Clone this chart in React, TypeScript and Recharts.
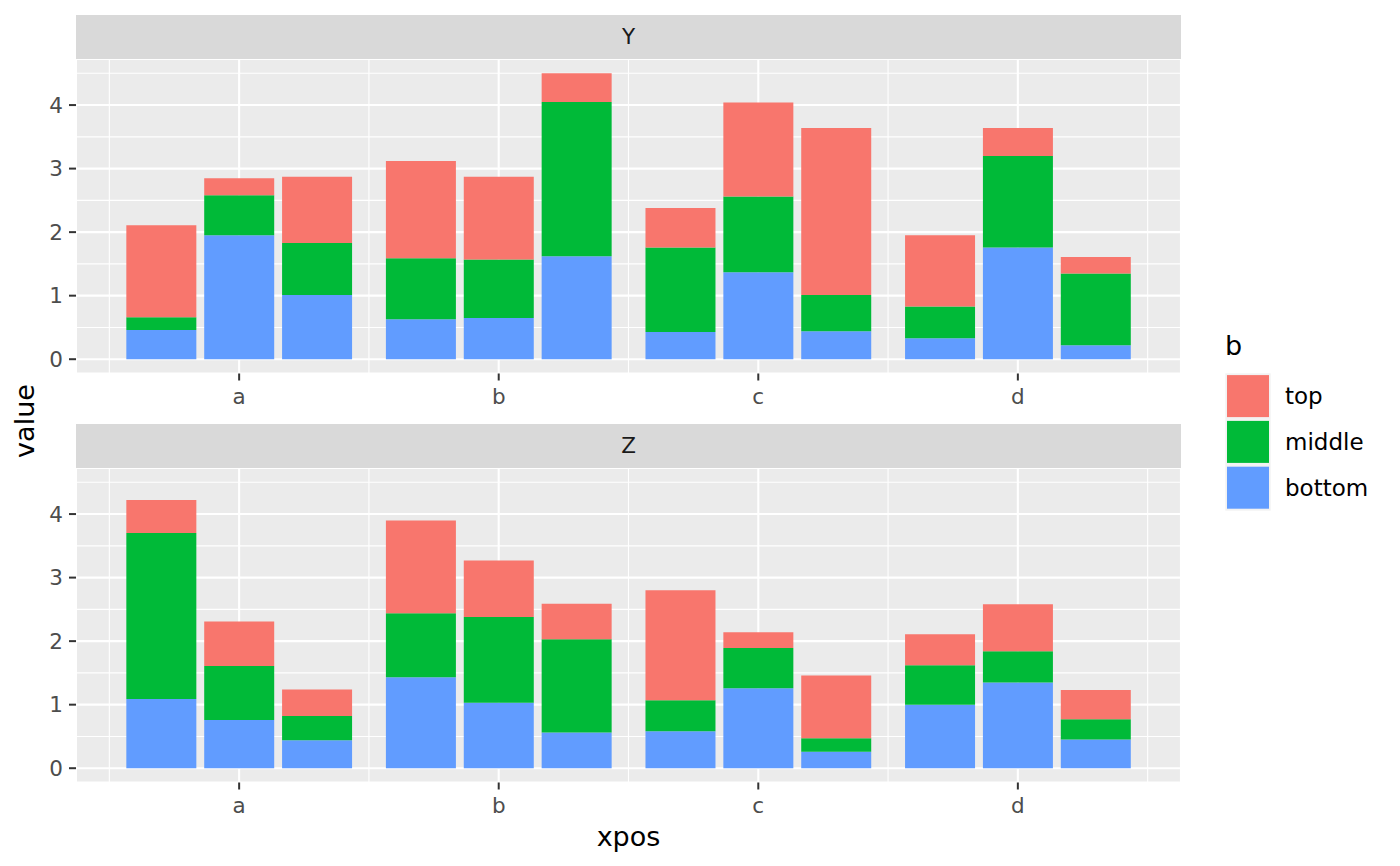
import { ComposedChart, Bar, XAxis, YAxis, CartesianGrid } from "recharts";

const FONT = "DejaVu Sans";

// x categories and the three dodged bars in each group
const CATEGORIES = ["a", "b", "c", "d"];
const DODGE = [-0.3, 0, 0.3];

// stacked layers, bottom first (12 bars per facet: a1 a2 a3 b1 ... d3)
const Y_BOTTOM = [0.46, 1.95, 1.01, 0.63, 0.65, 1.62, 0.43, 1.37, 0.44, 0.33, 1.76, 0.22];
const Y_MIDDLE = [0.2, 0.63, 0.82, 0.96, 0.92, 2.43, 1.33, 1.19, 0.57, 0.5, 1.44, 1.13];
const Y_TOP = [1.45, 0.27, 1.04, 1.53, 1.3, 0.45, 0.62, 1.48, 2.63, 1.12, 0.44, 0.26];

const Z_BOTTOM = [1.09, 0.76, 0.44, 1.43, 1.03, 0.56, 0.58, 1.26, 0.26, 1.0, 1.35, 0.45];
const Z_MIDDLE = [2.61, 0.85, 0.38, 1.01, 1.35, 1.47, 0.49, 0.63, 0.21, 0.62, 0.49, 0.32];
const Z_TOP = [0.52, 0.7, 0.42, 1.46, 0.89, 0.56, 1.73, 0.25, 0.99, 0.49, 0.74, 0.46];

const Y_TICKS = [0, 1, 2, 3, 4];
const MINOR = [0.5, 1.5, 2.5, 3.5, 4.5];
const X_TICKS = [1, 2, 3, 4];
const X_DOMAIN = [0.3715, 4.6285];
const Y_DOMAIN = [-0.225, 4.725];

const LAYERS = [
  { key: "top", color: "#F8766D" },
  { key: "middle", color: "#00BA38" },
  { key: "bottom", color: "#619CFF" },
];

function buildRows(bottom: number[], middle: number[], top: number[]) {
  const rows: { x: number; bottom: number; middle: number; top: number }[] = [];
  CATEGORIES.forEach((_, ci) => {
    DODGE.forEach((d, di) => {
      const i = ci * DODGE.length + di;
      rows.push({ x: ci + 1 + d, bottom: bottom[i], middle: middle[i], top: top[i] });
    });
  });
  return rows;
}

const FACETS = [
  { name: "Y", rows: buildRows(Y_BOTTOM, Y_MIDDLE, Y_TOP), top: 0 },
  { name: "Z", rows: buildRows(Z_BOTTOM, Z_MIDDLE, Z_TOP), top: 409 },
];

const tickStyle = { fill: "#4D4D4D", fontSize: 21.5, fontFamily: FONT };

function Facet({ rows }: { rows: ReturnType<typeof buildRows> }) {
  return (
    <ComposedChart
      width={1400}
      height={420}
      data={rows}
      margin={{ top: 59, right: 219, bottom: 0, left: 0 }}
    >
      <CartesianGrid
        fill="#EBEBEB"
        stroke="#FFFFFF"
        strokeWidth={1.1}
        horizontalValues={MINOR}
        verticalValues={MINOR}
      />
      <CartesianGrid fill="none" stroke="#FFFFFF" strokeWidth={2.1} />
      <XAxis
        type="number"
        dataKey="x"
        domain={X_DOMAIN}
        ticks={X_TICKS}
        tickFormatter={(v: number) => CATEGORIES[Math.round(v) - 1]}
        height={46.5}
        axisLine={false}
        tickSize={7}
        tickMargin={8}
        tickLine={{ stroke: "#333333", strokeWidth: 2 }}
        tick={tickStyle}
        interval={0}
      />
      <YAxis
        type="number"
        domain={Y_DOMAIN}
        ticks={Y_TICKS}
        width={76}
        axisLine={false}
        tickSize={7}
        tickMargin={6}
        tickLine={{ stroke: "#333333", strokeWidth: 2 }}
        tick={tickStyle}
        interval={0}
      />
      {[...LAYERS].reverse().map((l) => (
        <Bar
          key={l.key}
          dataKey={l.key}
          stackId="s"
          fill={l.color}
          barSize={70}
          isAnimationActive={false}
        />
      ))}
    </ComposedChart>
  );
}

export default function App() {
  return (
    <div style={{ position: "absolute", left: 0, top: 0, width: 1400, height: 866, background: "#FFFFFF" }}>
      {FACETS.map((f) => (
        <div key={f.name} style={{ position: "absolute", left: 0, top: f.top }}>
          <Facet rows={f.rows} />
        </div>
      ))}
      <svg
        width={1400}
        height={866}
        style={{ position: "absolute", left: 0, top: 0, pointerEvents: "none" }}
        fontFamily={FONT}
      >
        {FACETS.map((f) => (
          <g key={f.name}>
            <rect x={76} y={f.top + 15} width={1105} height={44} fill="#D9D9D9" />
            <text x={628.5} y={f.top + 44.3} textAnchor="middle" fontSize={21.5} fill="#1A1A1A">
              {f.name}
            </text>
          </g>
        ))}
        <text x={628.5} y={846} textAnchor="middle" fontSize={27} fill="#000000">
          xpos
        </text>
        <text
          x={33.5}
          y={421}
          textAnchor="middle"
          fontSize={27}
          fill="#000000"
          transform="rotate(-90 33.5 421)"
        >
          value
        </text>
        <text x={1225} y={354.5} fontSize={27} fill="#000000">
          b
        </text>
        {LAYERS.map((l, i) => {
          const y = 373.3 + i * 45.8;
          return (
            <g key={l.key}>
              <rect x={1225.3} y={y} width={45.4} height={45.8} fill="#F2F2F2" />
              <rect x={1227} y={y + 1.8} width={42} height={42} fill={l.color} />
              <text x={1285} y={y + 22.9 + 8} fontSize={23} fill="#000000">
                {l.key}
              </text>
            </g>
          );
        })}
      </svg>
    </div>
  );
}
